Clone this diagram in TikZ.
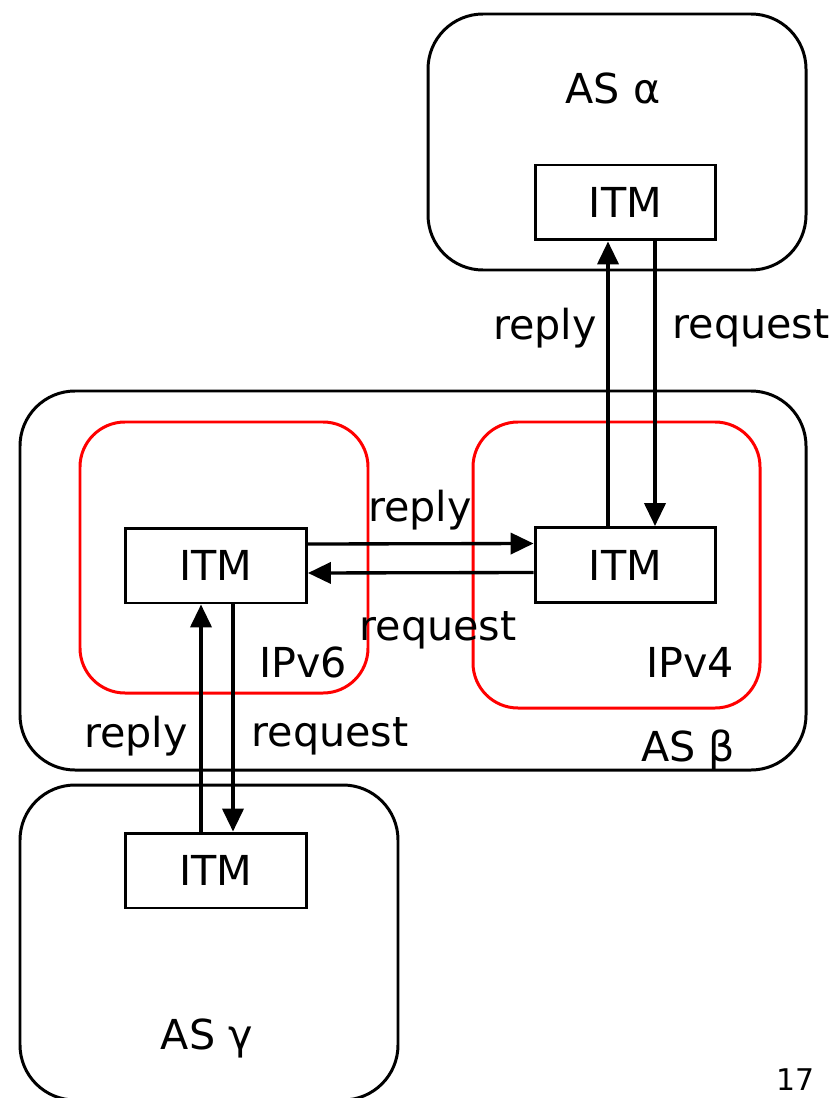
\documentclass[tikz,border=0pt]{standalone}
\usepackage{fontspec}
\setmainfont{DejaVu Sans}
\usetikzlibrary{arrows.meta}

\tikzset{
  itmbox/.style={draw,line width=1.7pt,minimum width=3.62cm,minimum height=1.5cm,inner sep=0pt},
  asbox/.style={draw,line width=1.7pt,rounded corners=1.1cm},
  ipbox/.style={draw=red,line width=1.7pt,rounded corners=0.9cm},
  conn/.style={draw,line width=1.9pt,-{Triangle[length=13pt,width=12pt]}},
  lbl/.style={inner sep=0pt}
}

\begin{document}
\begin{tikzpicture}[x=0.02cm,y=-0.02cm,font=\fontsize{23.5}{28}\selectfont]

\useasboundingbox (0,0) rectangle (837,1098);

% autonomous systems
\draw [asbox] (428,14) rectangle (806,270);
\draw [asbox] (20,391) rectangle (806,770);
\draw [asbox] (20,785) rectangle (398,1100);

% IPv6 / IPv4 parts of AS beta
\draw [ipbox] (80,422) rectangle (368,693);
\draw [ipbox] (473,422) rectangle (760,708);

\node [lbl] (alpha) at (613,88) {AS α};
\node [lbl] (beta) at (688,750) {AS β};
\node [lbl] (gamma) at (207,1038) {AS γ};
\node [lbl] (v6) at (303,662) {IPv6};
\node [lbl] (v4) at (690,662) {IPv4};
\node [lbl] (page) at (795,1080) {\fontsize{17}{20}\selectfont 17};

\node [itmbox,fill=white] (itma) at (625.5,202.5) {ITM};
\node [itmbox,fill=white] (itmb) at (625.5,565) {ITM};
\node [itmbox,fill=white] (itml) at (216,565.5) {ITM};
\node [itmbox,fill=white] (itmc) at (216,870.5) {ITM};

% alpha <-> beta
\draw [conn] ([xshift=-0.35cm]itmb.north) -- ([xshift=-0.35cm]itma.south);
\draw [conn] ([xshift=0.59cm]itma.south) -- ([xshift=0.59cm]itmb.north);
\node [lbl] (r1) at (545,328) {reply};
\node [lbl] (q1) at (751,328) {request};

% inside beta
\draw [conn] ([yshift=0.43cm]itml.east) -- ([yshift=0.43cm]itmb.west);
\draw [conn] ([yshift=-0.15cm]itmb.west) -- ([yshift=-0.15cm]itml.east);
\node [lbl] (r2) at (420,510) {reply};
\node [lbl] (q2) at (438,630) {request};

% beta <-> gamma
\draw [conn] ([xshift=-0.3cm]itmc.north) -- ([xshift=-0.3cm]itml.south);
\draw [conn] ([xshift=0.34cm]itml.south) -- ([xshift=0.34cm]itmc.north);
\node [lbl] (r3) at (136,736) {reply};
\node [lbl] (q3) at (330,736) {request};

\end{tikzpicture}
\end{document}
